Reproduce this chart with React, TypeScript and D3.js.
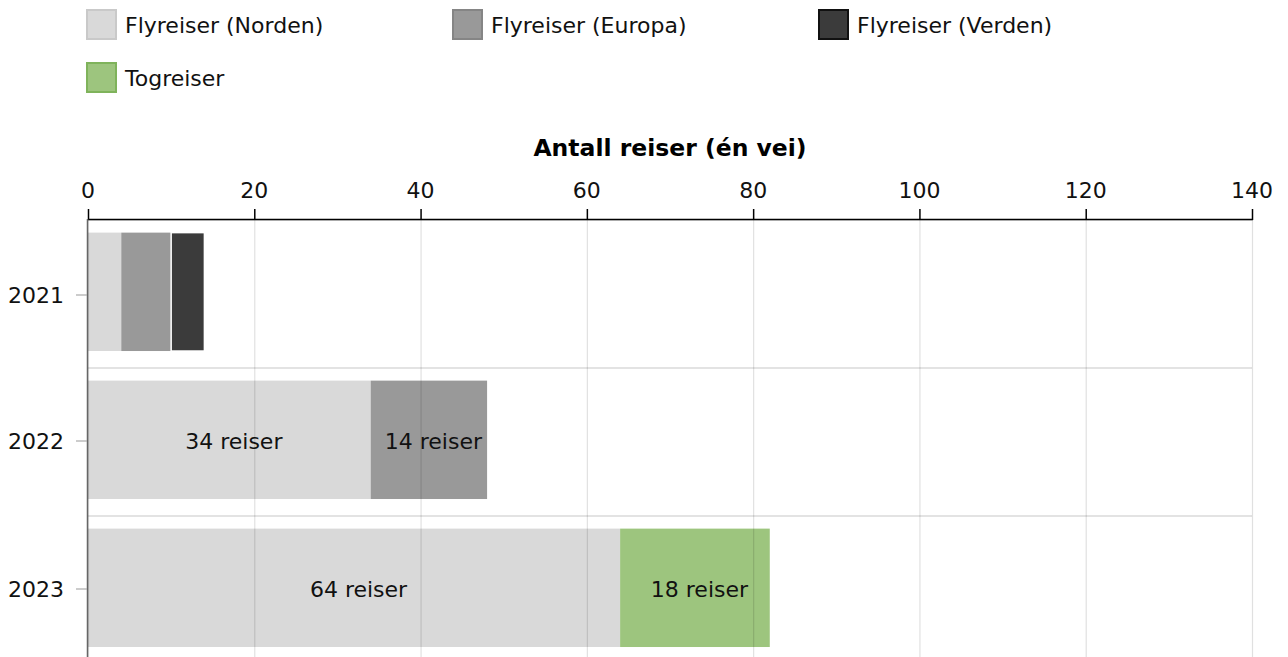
import React from "react";
import * as d3 from "d3";

// data
const years = ["2021", "2022", "2023"];
const seriesNames = ["Flyreiser (Norden)", "Flyreiser (Europa)", "Flyreiser (Verden)", "Togreiser"];
const norden = [4, 34, 64];
const europa = [6, 14, 0];
const verden = [4, 0, 0];
const tog = [0, 0, 18];
const xTicks = [0, 20, 40, 60, 80, 100, 120, 140];

const fills = ["#d9d9d9", "#999999", "#3b3b3b", "#9dc57e"];
const borders = ["#c9c9c9", "#858585", "#111111", "#7fb35b"];

const W = 1288;
const H = 657;
const FONT = "Verdana, 'DejaVu Sans', sans-serif";
const FS = 22;

const App = () => {
  const x = d3.scaleLinear().domain([0, 140]).range([88, 1252]);
  const y = d3
    .scaleBand()
    .domain(years)
    .range([219, 663])
    .paddingInner(0.2)
    .paddingOuter(0.1)
    .align(0.46);

  const table = years.map((yr, i) => ({
    year: yr,
    norden: norden[i],
    europa: europa[i],
    verden: verden[i],
    tog: tog[i],
  }));
  const keys = ["norden", "europa", "verden", "tog"];
  const stacked = d3.stack<any>().keys(keys)(table);

  const r0 = y.range()[0];
  const step = y.step();
  const bandTop = (i: number) => r0 + step * i;

  return (
    <svg
      width={W}
      height={H}
      style={{ position: "absolute", left: 0, top: 0, fontFamily: FONT }}
    >
      {/* legend */}
      {seriesNames.map((name, i) => {
        const col = i % 3;
        const row = Math.floor(i / 3);
        const lx = 87 + col * 366;
        const ly = 10 + row * 53;
        return (
          <g key={name}>
            <rect x={lx} y={ly} width={29} height={29} fill={fills[i]} stroke={borders[i]} strokeWidth={2} />
            <text x={lx + 38} y={ly + 15} dominantBaseline="central" fontSize={FS} fill="#111">
              {name}
            </text>
          </g>
        );
      })}

      {/* axis title */}
      <text x={(x(0) + x(140)) / 2} y={148} textAnchor="middle" dominantBaseline="central" fontSize={23.5} fontWeight="bold" fill="#000">
        Antall reiser (én vei)
      </text>

      {/* horizontal grid */}
      {d3.range(years.length + 1).map((i) => (
        <line key={"h" + i} x1={x(0)} x2={x(140)} y1={bandTop(i) + 1} y2={bandTop(i) + 1} stroke="#e3e3e3" strokeWidth={2} />
      ))}

      {/* bars */}
      {stacked.map((s, si) =>
        s.map((d, i) => {
          const w = x(d[1]) - x(d[0]);
          if (w <= 0) return null;
          return (
            <rect
              key={si + "-" + i}
              x={x(d[0])}
              y={y(years[i])}
              width={w}
              height={y.bandwidth()}
              fill={fills[si]}
              stroke={si === 2 ? "#fff" : "none"}
              strokeWidth={si === 2 ? 1.5 : 0}
            />
          );
        })
      )}

      {/* bar labels */}
      {stacked.map((s, si) =>
        s.map((d, i) => {
          const v = d[1] - d[0];
          if (v < 10) return null;
          return (
            <text
              key={"l" + si + "-" + i}
              x={(x(d[0]) + x(d[1])) / 2 + 4.5}
              y={(y(years[i]) as number) + y.bandwidth() / 2 + 2}
              textAnchor="middle"
              dominantBaseline="central"
              fontSize={FS}
              fill="#111"
            >
              {v} reiser
            </text>
          );
        })
      )}

      {/* vertical grid on top */}
      {xTicks.map((t) => (
        <line key={"v" + t} x1={x(t) + 0.5} x2={x(t) + 0.5} y1={219} y2={H} stroke="#000" strokeOpacity={0.12} strokeWidth={1.2} />
      ))}

      {/* top axis */}
      <line x1={x(0)} x2={x(140) + 1} y1={219.5} y2={219.5} stroke="#000" strokeWidth={1.5} />
      {xTicks.map((t) => (
        <g key={"t" + t}>
          <line x1={x(t) + 0.5} x2={x(t) + 0.5} y1={209} y2={220} stroke="#000" strokeWidth={1.5} />
          <text x={x(t)} y={190} textAnchor="middle" dominantBaseline="central" fontSize={FS} fill="#111">
            {t}
          </text>
        </g>
      ))}

      {/* left axis */}
      <line x1={x(0) - 0.5} x2={x(0) - 0.5} y1={219} y2={H} stroke="#666" strokeWidth={1.5} />
      {years.map((yr, i) => {
        const cy = r0 + step * (i + 0.5) + (i === 0 ? 2 : 0);
        return (
          <g key={"y" + yr}>
            <line x1={76} x2={87} y1={cy} y2={cy} stroke="#aaa" strokeWidth={1.2} />
            <text x={64} y={cy} textAnchor="end" dominantBaseline="central" fontSize={FS} fill="#111">
              {yr}
            </text>
          </g>
        );
      })}
    </svg>
  );
};

export default App;
